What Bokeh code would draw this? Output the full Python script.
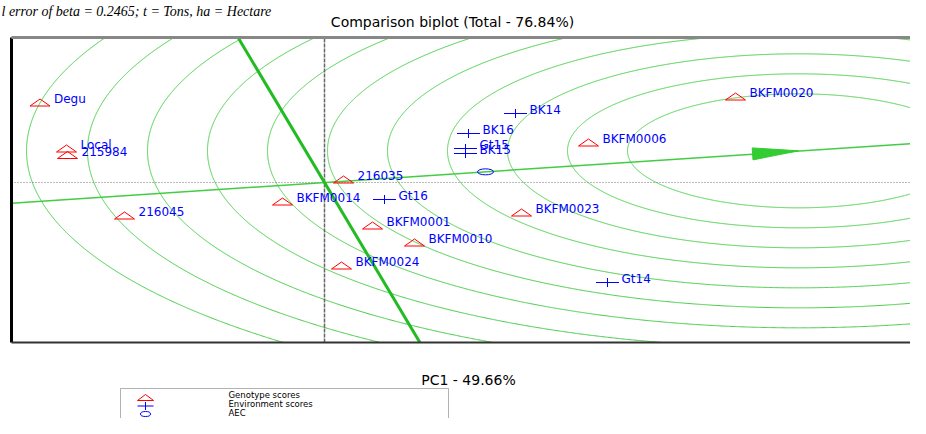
import numpy as np
from bokeh.plotting import figure
from bokeh.models import Label, Range1d, BoxAnnotation
from bokeh.embed import file_html
from bokeh.resources import INLINE
from bokeh.core.properties import value

# ---------------- data ----------------
genotypes = ["Degu", "Local", "215984", "216045", "BKFM0014", "216035",
             "BKFM0001", "BKFM0010", "BKFM0024", "BKFM0023", "BKFM0006", "BKFM0020"]
gen_pc1 = [-2.845, -2.58, -2.57, -2.00, -0.42, 0.19, 0.48, 0.90, 0.17, 1.97, 2.64, 4.11]
gen_pc2 = [2.40, 1.02, 0.825, -0.99, -0.57, 0.09, -1.29, -1.80, -2.49, -0.90, 1.20, 2.58]

environments = ["BK14", "BK16", "Gt15", "BK15", "Gt16", "Gt14"]
env_pc1 = [1.91, 1.44, 1.41, 1.41, 0.60, 2.83]
env_pc2 = [2.07, 1.47, 1.02, 0.87, -0.51, -3.00]

aec_pc1 = [1.61]
aec_pc2 = [0.32]

ideal_pc1 = 4.74
ideal_pc2 = 0.95

ring_radii = [1.71, 2.31, 2.91, 3.51, 4.11, 4.71, 5.31, 5.91, 6.51, 7.11, 7.72]

title_text = "Comparison biplot (Total - 76.84%)"
x_label = "PC1 - 49.66%"
caption_text = "l error of beta = 0.2465; t = Tons, ha = Hectare"
legend_labels = ["Genotype scores", "Environment scores", "AEC"]

# ---------------- layout (pixels) ----------------
W, H = 910, 418
ORX, ORY = 324, 182            # pixel position of the origin
SX, SY = 100.0, 100.0 / 3.0    # pixels per unit
BOX_L, BOX_T, BOX_B = 11, 37, 342   # visible plot box edges

# legend layout
LEG_L, LEG_R, LEG_T = 120, 448, 388
LEG_SYM_X, LEG_TXT_X = 145, 228
LEG_TXT_Y = [394.5, 403.5, 412.5]
LEG_SYM_Y = [397, 405.5, 413.5]


def ux(px):
    return (px - ORX) / SX


def uy(py):
    return (ORY - py) / SY


x0, x1 = ux(0), ux(W)
y0, y1 = uy(H), uy(0)
xl, xr = ux(BOX_L), ux(W)
yt, yb = uy(BOX_T), uy(BOX_B)

p = figure(width=W, height=H, x_range=Range1d(x0, x1), y_range=Range1d(y0, y1),
           title=None, output_backend="svg", toolbar_location=None,
           min_border_left=0, min_border_right=0, min_border_top=0, min_border_bottom=0)
p.outline_line_color = None
p.grid.visible = False
p.axis.visible = False
p.background_fill_color = "white"
p.border_fill_color = "white"

green = "#44cc44"

# concentric circles round the ideal genotype, kept inside the plot box
t = np.linspace(0, 2 * np.pi, 3001)
ring_xs, ring_ys = [], []
for r in ring_radii:
    cx = ideal_pc1 + r * np.cos(t)
    cy = ideal_pc2 + r * np.sin(t)
    out = (cx < xl) | (cy > yt) | (cy < yb)
    cx = np.where(out, np.nan, cx)
    cy = np.where(out, np.nan, cy)
    ring_xs.append(cx.tolist())
    ring_ys.append(cy.tolist())
p.multi_line(ring_xs, ring_ys, line_color=green, line_width=1)

# reference axes through origin
p.segment(x0=[xl], y0=[0], x1=[xr], y1=[0], line_color="#777777",
          line_width=1, line_dash="1 2")
p.segment(x0=[0], y0=[yb], x1=[0], y1=[yt], line_color="#666666",
          line_width=1.5, line_dash="4 1")

# AEC abscissa through origin and AEC
g = aec_pc2[0] / aec_pc1[0]
p.line([xl, xr], [g * xl, g * xr], line_color=green, line_width=1.5)

# perpendicular through origin
gp = -aec_pc1[0] / aec_pc2[0]
p.line([yb / gp, yt / gp], [yb, yt], line_color="#22bb22", line_width=3)

# arrow head at the ideal genotype
tx, ty = ideal_pc1 * SX, ideal_pc2 * SY
L = np.hypot(tx, ty)
ex, ey = tx / L, ty / L
nx, ny = -ey, ex
head_len, head_half = 46, 6
bx, by = tx - head_len * ex, ty - head_len * ey
p.patch([ideal_pc1, (bx + head_half * nx) / SX, (bx - head_half * nx) / SX],
        [ideal_pc2, (by + head_half * ny) / SY, (by - head_half * ny) / SY],
        fill_color="#33cc33", line_color="#33cc33", line_width=1)

# genotype triangles (flat and wide like the reference)
tw, th = 10 / SX, 3.5 / SY
p.patches([[x - tw, x + tw, x] for x in gen_pc1],
          [[y - th, y - th, y + th] for y in gen_pc2],
          fill_color=None, line_color="#ff0000", line_width=1)

# environment crosses
p.scatter(env_pc1, env_pc2, marker="dash", size=23, line_color="#0000ff", line_width=1)
p.scatter(env_pc1, env_pc2, marker="dash", size=9, angle=np.pi / 2,
          line_color="#0000ff", line_width=1)

# AEC point
p.ellipse(aec_pc1, aec_pc2, width=16, height=6, width_units="screen",
          height_units="screen", fill_color=None, line_color="#0000ff", line_width=1)

# point labels
lab_kw = dict(x_offset=14, y_offset=-4, text_baseline="middle", text_align="left",
              text_color="#0000ff", text_font=value("DejaVu Sans"), text_font_size="12px")
p.text(gen_pc1, gen_pc2, text=genotypes, **lab_kw)
p.text(env_pc1, env_pc2, text=environments, **lab_kw)

# plot box borders
for (sx0, sy0, sx1, sy1, col, lw) in ((xl, yb, xl, yt, "black", 3),
                                      (xl, yt, xr, yt, "#888888", 3),
                                      (xl, yb, xr, yb, "#333333", 2)):
    r = p.segment(x0=[sx0], y0=[sy0], x1=[sx1], y1=[sy1], line_color=col, line_width=lw)
    r.level = "overlay"

# texts outside the plot box (screen units from the bottom-left corner)
p.add_layout(Label(x=452, y=H - 21, x_units="screen", y_units="screen", text=title_text,
                   text_font="DejaVu Sans", text_font_size="14px", text_color="black",
                   text_align="center", text_baseline="middle", level="overlay"))
p.add_layout(Label(x=468, y=H - 379, x_units="screen", y_units="screen", text=x_label,
                   text_font="DejaVu Sans", text_font_size="14px", text_color="black",
                   text_align="center", text_baseline="middle", level="overlay"))
p.add_layout(Label(x=1, y=H - 11, x_units="screen", y_units="screen", text=caption_text,
                   text_font="Liberation Serif", text_font_style="italic",
                   text_font_size="14px", text_color="black",
                   text_align="left", text_baseline="alphabetic", level="overlay"))

# legend (box cut by the lower edge, as in the reference)
far = 60
p.add_layout(BoxAnnotation(left=ux(LEG_L), right=ux(LEG_R), top=uy(LEG_T), bottom=uy(H + far),
                           fill_color="white", fill_alpha=1, line_color="black", line_width=1))
sym = []
ly = LEG_SYM_Y
sym.append(p.patch([ux(LEG_SYM_X - 8), ux(LEG_SYM_X + 8), ux(LEG_SYM_X)],
                   [uy(ly[0] + 3), uy(ly[0] + 3), uy(ly[0] - 3)],
                   fill_color=None, line_color="#ff0000", line_width=1))
sym.append(p.segment(x0=[ux(LEG_SYM_X - 8), ux(LEG_SYM_X)], y0=[uy(ly[1]), uy(ly[1] - 4)],
                     x1=[ux(LEG_SYM_X + 8), ux(LEG_SYM_X)], y1=[uy(ly[1]), uy(ly[1] + 4)],
                     line_color="#0000ff", line_width=1))
sym.append(p.ellipse([ux(LEG_SYM_X)], [uy(ly[2])], width=10, height=5, width_units="screen",
                     height_units="screen", fill_color=None, line_color="#0000ff", line_width=1))
for r in sym:
    r.level = "overlay"
for lab, ty_ in zip(legend_labels, LEG_TXT_Y):
    p.add_layout(Label(x=LEG_TXT_X, y=H - ty_, x_units="screen", y_units="screen", text=lab,
                       text_font="DejaVu Sans", text_font_size="8.5px", text_color="black",
                       text_align="left", text_baseline="middle", level="overlay"))

open("out.html", "w").write(file_html(p, INLINE))
